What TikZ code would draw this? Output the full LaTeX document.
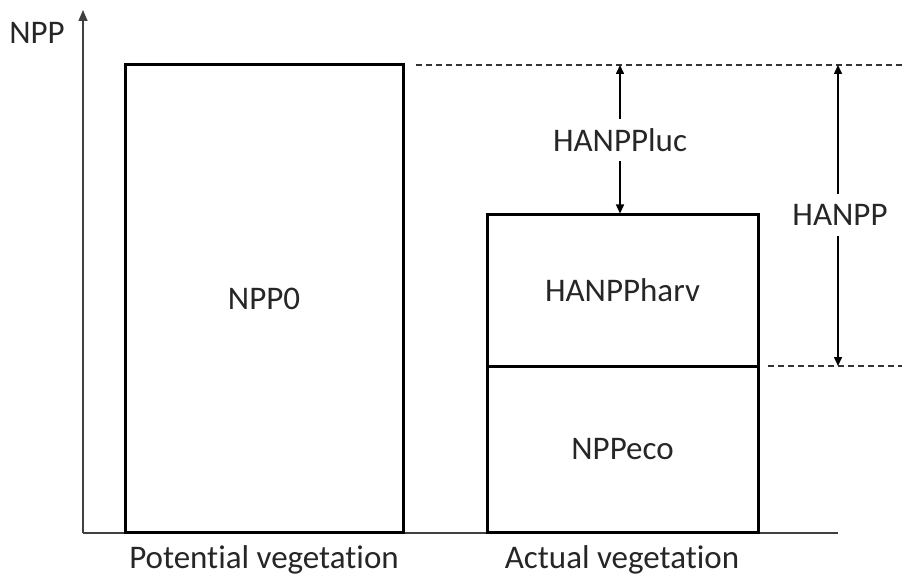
\documentclass[tikz,border=0pt]{standalone}
\usepackage{fontspec}
\setmainfont{Carlito}[Ligatures={NoCommon}]
\usetikzlibrary{arrows.meta}
\begin{document}
\begin{tikzpicture}[x=1pt,y=1pt,
  every node/.style={font=\fontsize{33}{38}\selectfont, text=black!85},
  bar/.style={draw=black, line width=3pt, inner sep=0pt},
  lbl/.style={inner sep=0pt, minimum height=42pt},
  arr/.style={line width=1.5pt, -{Triangle[length=9pt,width=8pt]}},
  guide/.style={line width=1.2pt, dash pattern=on 6pt off 4pt, black!80},
  axis/.style={line width=1.5pt, black!75}
]
\useasboundingbox (0,0) rectangle (902,579);
% axes
\coordinate (O) at (83,46);
\coordinate (Ytop) at (83,569);
\coordinate (Xend) at (838,46);
\draw[axis, -{Triangle[length=11pt,width=9pt]}] (O) -- (Ytop);
\draw[axis] (O) -- (Xend);
\node (npp) at (37,546) {NPP};
% boxes
\node[bar, minimum width=278pt, minimum height=467pt] (npp0) at (264,280.5) {NPP0};
\node[bar, minimum width=271pt, minimum height=151pt] (harv) at (622.5,288.5) {HANPPharv};
\node[bar, minimum width=271pt, minimum height=166pt] (eco) at (622.5,130) {NPPeco};
% guides
\coordinate (g1a) at (416,514);
\coordinate (g1b) at (902,514);
\coordinate (g2a) at (768,213);
\coordinate (g2b) at (902,213);
\draw[guide] (g1a) -- (g1b);
\draw[guide] (g2a) -- (g2b);
% HANPPluc
\node[lbl] (luc) at (620,439) {HANPPluc};
\coordinate (lucTop) at (620,514);
\draw[arr] (luc.north) -- (lucTop);
\draw[arr] (luc.south) -- (harv.north -| luc.south);
% HANPP
\node[lbl] (hanpp) at (840,364) {HANPP};
\coordinate (hTop) at (838,514);
\coordinate (hBot) at (838,213);
\draw[arr] (hanpp.north -| hTop) -- (hTop);
\draw[arr] (hanpp.south -| hBot) -- (hBot);
% category labels
\node (pot) at (264,19) {Potential vegetation};
\node (act) at (622,19) {Actual vegetation};
\end{tikzpicture}
\end{document}
